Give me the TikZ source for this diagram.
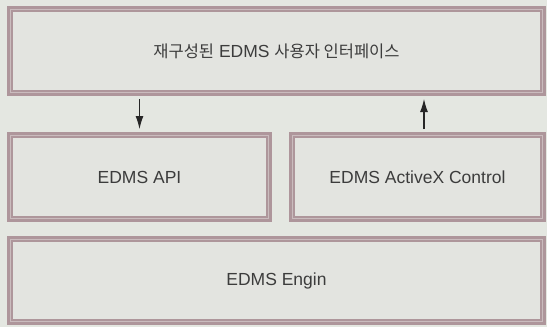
\documentclass[tikz,border=0pt]{standalone}
\usepackage{fontspec}
\setmainfont{Liberation Sans}
\newfontfamily\krfont{Noto Sans CJK KR}
\usetikzlibrary{arrows.meta}
\definecolor{bgcol}{HTML}{E4E7E1}
\definecolor{boxfill}{HTML}{E3E4E0}
\definecolor{edgeout}{HTML}{AE969B}
\definecolor{edgein}{HTML}{CABCBE}
\definecolor{txtcol}{HTML}{3C3C3C}
\tikzset{
  layerbox/.style={rectangle, draw=edgeout, line width=6pt, fill=boxfill,
    inner sep=0pt, text=txtcol, font=\fontsize{17.5}{20}\selectfont},
  flowarrow/.style={draw=black!85, line width=1.1pt,
    -{Latex[length=13pt,width=8pt]}, shorten <=3pt, shorten >=3pt}
}
\newcommand{\softedge}[1]{%
  \draw[edgein, line width=1.5pt]
    ([shift={(3.6,3.6)}]#1.north west) rectangle ([shift={(-3.6,-3.6)}]#1.south east);}
\begin{document}
\begin{tikzpicture}[x=1pt,y=-1pt]
  \fill[bgcol] (0,0) rectangle (547,327);
  \useasboundingbox (0,0) rectangle (547,327);

  % four layers of the system
  \node[layerbox, minimum width=533pt, minimum height=84pt] (ui) at (276.5,51)
    {{\krfont\fontsize{16.5}{20}\selectfont 재구성된} EDMS {\krfont\fontsize{16.5}{20}\selectfont 사용자 인터페이스}};
  \node[layerbox, minimum width=259pt, minimum height=84pt] (api) at (139.5,177)
    {EDMS API};
  \node[layerbox, minimum width=251pt, minimum height=84pt] (ax) at (417.5,177)
    {EDMS ActiveX Control};
  \node[layerbox, minimum width=533pt, minimum height=83pt] (eng) at (276.5,280.5)
    {EDMS Engin};

  \softedge{ui}
  \softedge{api}
  \softedge{ax}
  \softedge{eng}

  % data flow between the interface and the lower layers
  \coordinate (upx) at (424,0);
  \draw[flowarrow] (api |- ui.south) -- (api.north);
  \draw[flowarrow] (upx |- ax.north) -- (upx |- ui.south);
\end{tikzpicture}
\end{document}
